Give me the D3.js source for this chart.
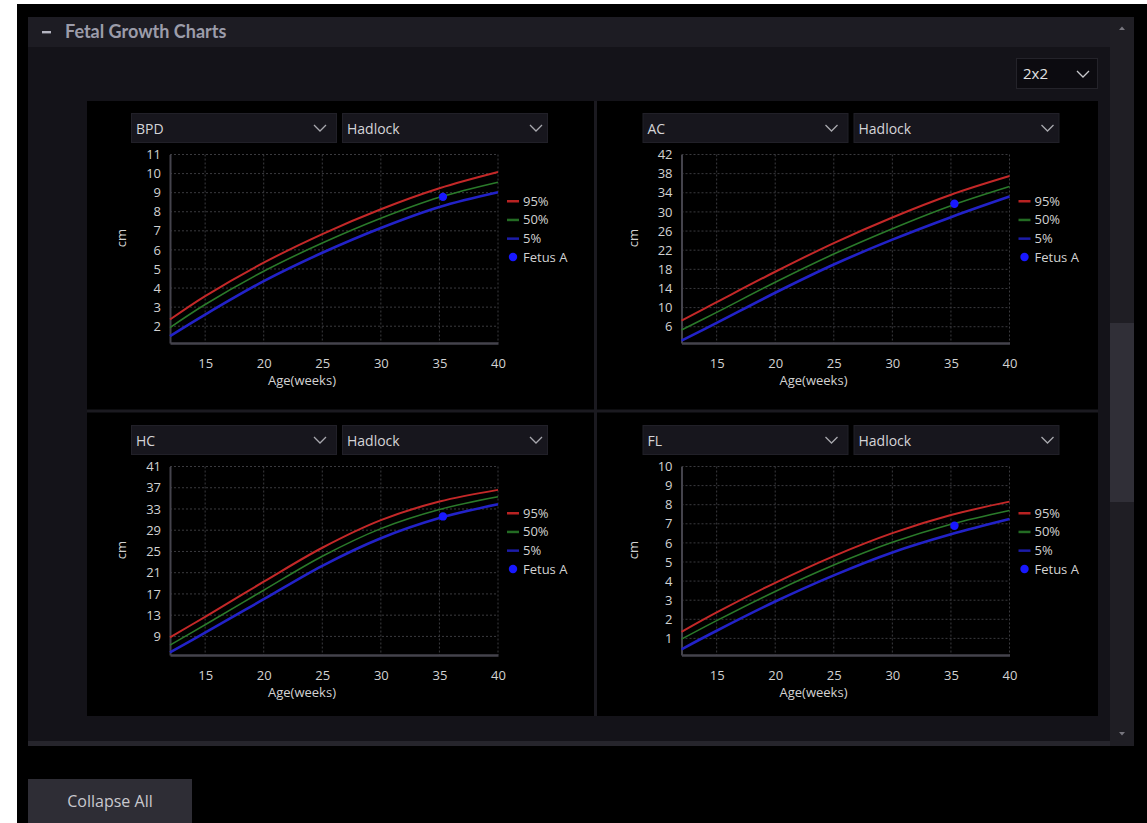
<!DOCTYPE html>
<html>
<head>
<meta charset="UTF-8">
<title>Fetal Growth Charts</title>
<style>
  body { margin: 0; background: #fff; }
  svg { display: block; font-family: "Open Sans", "Noto Sans", sans-serif; }
</style>
</head>
<body>
<div id="chart"></div>
<script src="https://d3js.org/d3.v7.min.js"></script>
<script>
// gestational weeks used for all curves
var weeks = [12, 15, 20, 25, 30, 35, 40];
var xTicks = [15, 20, 25, 30, 35, 40];

// BPD (cm)
var bpd95 = [2.35, 3.58, 5.33, 6.83, 8.13, 9.23, 10.08];
var bpd50 = [1.93, 3.14, 4.88, 6.36, 7.66, 8.76, 9.55];
var bpd5  = [1.48, 2.61, 4.36, 5.85, 7.15, 8.25, 9.02];
var bpdTicks = [2, 3, 4, 5, 6, 7, 8, 9, 10, 11];

// AC (cm)
var ac95 = [7.3, 11.14, 17.49, 23.49, 28.84, 33.59, 37.49];
var ac50 = [5.3, 9.0, 15.3, 21.2, 26.5, 31.3, 35.3];
var ac5  = [3.1, 6.8, 13.1, 19.0, 24.2, 28.9, 33.2];
var acTicks = [6, 10, 14, 18, 22, 26, 30, 34, 38, 42];

// HC (cm)
var hc95 = [8.8, 12.7, 19.3, 25.7, 30.9, 34.4, 36.6];
var hc50 = [7.35, 11.2, 17.7, 24.1, 29.3, 32.9, 35.3];
var hc5  = [6.0, 9.7, 16.0, 22.3, 27.5, 31.3, 33.9];
var hcTicks = [9, 13, 17, 21, 25, 29, 33, 37, 41];

// FL (cm)
var fl95 = [1.34, 2.36, 3.91, 5.31, 6.51, 7.46, 8.16];
var fl50 = [0.96, 1.93, 3.46, 4.84, 6.03, 6.98, 7.7];
var fl5  = [0.43, 1.40, 2.93, 4.30, 5.50, 6.45, 7.25];
var flTicks = [1, 2, 3, 4, 5, 6, 7, 8, 9, 10];

// Fetus A measurement
var fetusWeek = 35.3;
var fetusBpd = 8.78, fetusAc = 31.7, fetusHc = 31.6, fetusFl = 6.9;

var seriesNames = ["95%", "50%", "5%"];
var lineColors = ["#c42828", "#2a7a2a", "#2222c8"];
var legendColors = ["#b82222", "#236b23", "#1c1ca8"];
var lineWidths = [2, 1.6, 2.6];

var charts = [
  { name: "BPD", y0: 1.12, y1: 11, ticks: bpdTicks, s: [bpd95, bpd50, bpd5], fetus: fetusBpd, cx: 87, cy: 101 },
  { name: "AC", y0: 2.6, y1: 42, ticks: acTicks, s: [ac95, ac50, ac5], fetus: fetusAc, cx: 598.5, cy: 101 },
  { name: "HC", y0: 5.5, y1: 41, ticks: hcTicks, s: [hc95, hc50, hc5], fetus: fetusHc, cx: 87, cy: 413 },
  { name: "FL", y0: 0.13, y1: 10, ticks: flTicks, s: [fl95, fl50, fl5], fetus: fetusFl, cx: 598.5, cy: 413 }
];

var width = 1147, height = 823;
var svg = d3.select("#chart").append("svg")
  .attr("width", width)
  .attr("height", height);

// page frame
svg.append("rect").attr("x", 17).attr("y", 4).attr("width", width - 17).attr("height", height - 4).attr("fill", "#000");
// panel body + header
svg.append("rect").attr("x", 28).attr("y", 17).attr("width", 1082).attr("height", 729).attr("fill", "#141319");
svg.append("rect").attr("x", 28).attr("y", 17).attr("width", 1082).attr("height", 30).attr("fill", "#1d1c23");
svg.append("rect").attr("x", 28).attr("y", 741).attr("width", 1082).attr("height", 5).attr("fill", "#26252c");
svg.append("rect").attr("x", 42).attr("y", 31).attr("width", 9).attr("height", 2.4).attr("fill", "#b4b4c0");
svg.append("text").attr("x", 65).attr("y", 38)
  .attr("font-family", "Lato, sans-serif").attr("font-weight", "bold").attr("font-size", 18)
  .attr("fill", "#9c9caa").text("Fetal Growth Charts");

// scrollbar
svg.append("rect").attr("x", 1110).attr("y", 17).attr("width", 24).attr("height", 729).attr("fill", "#1f1e24");
svg.append("rect").attr("x", 1110).attr("y", 323).attr("width", 24).attr("height", 179).attr("fill", "#302f37");
svg.append("path").attr("d", "M1119,30 L1122,26.5 L1125,30 Z").attr("fill", "#77767e");
svg.append("path").attr("d", "M1119,732 L1122,735.5 L1125,732 Z").attr("fill", "#77767e");

// layout dropdown
svg.append("rect").attr("x", 1016.5).attr("y", 58.5).attr("width", 81).attr("height", 30)
  .attr("fill", "#0c0b10").attr("stroke", "#24232a");
svg.append("text").attr("x", 1023).attr("y", 79).attr("font-size", 15).attr("fill", "#e2e2e2").text("2x2");
svg.append("path").attr("d", "M1077,71 L1083,77 L1089,71").attr("fill", "none").attr("stroke", "#c8c8cc").attr("stroke-width", 1.3);

// chart area and cell separators
svg.append("rect").attr("x", 87).attr("y", 101).attr("width", 1011).attr("height", 615).attr("fill", "#000");
svg.append("rect").attr("x", 594).attr("y", 101).attr("width", 3).attr("height", 615).attr("fill", "#1b1a20");
svg.append("rect").attr("x", 87).attr("y", 409.5).attr("width", 1011).attr("height", 3).attr("fill", "#1b1a20");

// collapse button
svg.append("rect").attr("x", 28).attr("y", 779).attr("width", 164).attr("height", 44).attr("fill", "#2e2d35");
svg.append("text").attr("x", 110).attr("y", 806.5).attr("text-anchor", "middle")
  .attr("font-size", 16).attr("fill", "#c8c8ce").text("Collapse All");

function dropdown(g, x, label, chevX) {
  g.append("rect").attr("x", x + 0.5).attr("y", 12.5).attr("width", 205).attr("height", 29)
    .attr("fill", "#17161d").attr("stroke", "#212028");
  g.append("text").attr("x", x + 5).attr("y", 32.5).attr("font-size", 14).attr("fill", "#d4d4d8").text(label);
  g.append("path").attr("d", "M" + (chevX - 6) + ",24 L" + chevX + ",30 L" + (chevX + 6) + ",24")
    .attr("fill", "none").attr("stroke", "#a8a8ae").attr("stroke-width", 1.3);
}

charts.forEach(function(c) {
  var g = svg.append("g").attr("transform", "translate(" + c.cx + "," + c.cy + ")");
  dropdown(g, 44, c.name, 233);
  dropdown(g, 255, "Hadlock", 449);

  var left = 83, right = 411, top = 53.5, bottom = 242;
  var x = d3.scaleLinear().domain([12, 40]).range([left, right]);
  var y = d3.scaleLinear().domain([c.y0, c.y1]).range([bottom, top]);

  // grid
  g.append("g").selectAll("line.h").data(c.ticks).join("line")
    .attr("x1", left).attr("x2", right)
    .attr("y1", function(d) { return y(d); }).attr("y2", function(d) { return y(d); })
    .attr("stroke", "#3a3a3e").attr("stroke-dasharray", "2,2");
  g.append("g").selectAll("line.v").data(xTicks).join("line")
    .attr("x1", function(d) { return x(d); }).attr("x2", function(d) { return x(d); })
    .attr("y1", top).attr("y2", bottom)
    .attr("stroke", "#3a3a3e").attr("stroke-dasharray", "2,2");

  // axes
  var yAxis = g.append("g").attr("transform", "translate(" + left + ",0)")
    .call(d3.axisLeft(y).tickValues(c.ticks).tickSize(0).tickPadding(9));
  yAxis.select(".domain").attr("stroke", "#44434c").attr("stroke-width", 2);
  yAxis.selectAll("text").attr("fill", "#d2d2d2").attr("font-size", 13)
    .attr("font-family", "'Open Sans', sans-serif");

  var xAxis = g.append("g").attr("transform", "translate(0," + bottom + ")")
    .call(d3.axisBottom(x).tickValues(xTicks).tickSize(0).tickPadding(16));
  xAxis.select(".domain").attr("stroke", "#44434c").attr("stroke-width", 2.5);
  xAxis.selectAll("text").attr("fill", "#d2d2d2").attr("font-size", 13)
    .attr("font-family", "'Open Sans', sans-serif");

  g.append("text").attr("x", 215).attr("y", 283.5).attr("text-anchor", "middle")
    .attr("font-size", 13).attr("fill", "#d2d2d2").text("Age(weeks)");
  g.append("text").attr("transform", "translate(39,137) rotate(-90)").attr("text-anchor", "middle")
    .attr("font-size", 13).attr("fill", "#d2d2d2").text("cm");

  // percentile curves
  var line = d3.line()
    .x(function(d, i) { return x(weeks[i]); })
    .y(function(d) { return y(d); })
    .curve(d3.curveCatmullRom);
  c.s.forEach(function(vals, k) {
    g.append("path").datum(vals).attr("d", line)
      .attr("fill", "none").attr("stroke", lineColors[k]).attr("stroke-width", lineWidths[k]);
  });

  g.append("circle").attr("cx", x(fetusWeek)).attr("cy", y(c.fetus)).attr("r", 4.2).attr("fill", "#1818ff");

  // legend
  var legend = g.selectAll(".legend").data(seriesNames).join("g")
    .attr("transform", function(d, i) { return "translate(420," + (100 + i * 18.7) + ")"; });
  legend.append("rect").attr("x", 0).attr("y", -1).attr("width", 12).attr("height", 2.5)
    .attr("fill", function(d, i) { return legendColors[i]; });
  legend.append("text").attr("x", 16).attr("y", 4.5).attr("font-size", 13).attr("fill", "#d2d2d2")
    .text(function(d) { return d; });
  g.append("circle").attr("cx", 426).attr("cy", 156).attr("r", 4.2).attr("fill", "#1818ff");
  g.append("text").attr("x", 436).attr("y", 160.5).attr("font-size", 13).attr("fill", "#d2d2d2").text("Fetus A");
});
</script>
</body>
</html>
